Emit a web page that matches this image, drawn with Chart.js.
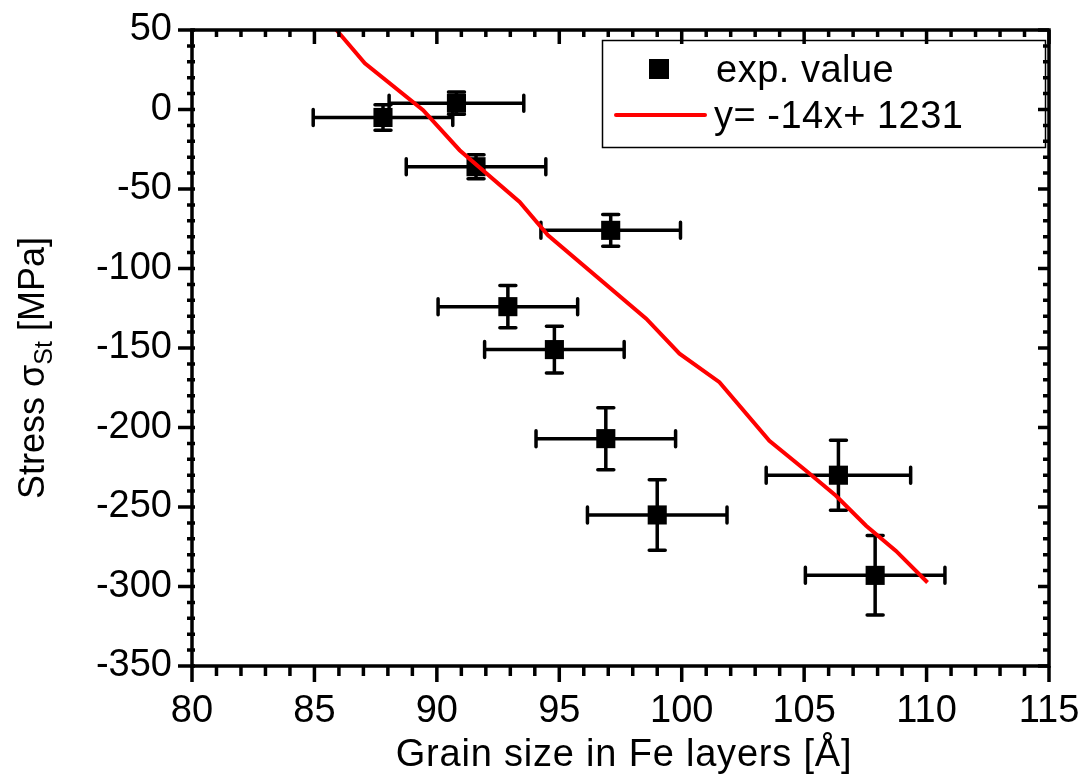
<!DOCTYPE html>
<html>
<head>
<meta charset="utf-8">
<script src="https://cdn.jsdelivr.net/npm/chart.js@4.4.0/dist/chart.umd.min.js"></script>
<style>
    html, body { margin: 0; padding: 0; background: #fff; }
    #wrap { width: 1090px; height: 778px; position: relative; }
</style>
</head>
<body>
<div id="wrap"><canvas id="stressChart"></canvas></div>
<script>
// measured points (grain size in Angstrom, stress in MPa) with their error bars
const grainSize = [87.8, 90.8, 91.6, 97.1, 92.9, 94.8, 96.9, 99.0, 106.4, 107.9];
const stress    = [-5, 4, -36, -76, -124, -151, -207, -255, -230, -293];
const grainErr  = [2.85, 2.75, 2.85, 2.85, 2.85, 2.85, 2.85, 2.85, 2.95, 2.85];
const stressErr = [8, 7, 7.5, 10, 13.3, 14.7, 19.5, 22.2, 22, 25];

// linear fit as drawn (polyline)
const fitX = [85.9, 87.06, 89.44, 90.93, 93.38, 94.54, 98.55, 99.91, 101.54, 103.58, 105.08, 106.3, 107.53, 108.75, 110.04];
const fitY = [50, 29, -0.4, -25.6, -58.1, -79.1, -131.6, -153.6, -171.5, -208.3, -227.2, -242.9, -261.8, -277.6, -297.5];

const xTickLabels = [80, 85, 90, 95, 100, 105, 110, 115];
const yTickLabels = [50, 0, -50, -100, -150, -200, -250, -300, -350];

const FONT = "'Liberation Sans', Arial, sans-serif";

// error bars under the markers, frame, ticks, axis titles and legend on top
const framePlugin = {
    id: 'frame',
    beforeDatasetsDraw(chart) {
        const ctx = chart.ctx;
        const xs = chart.scales.x, ys = chart.scales.y;
        ctx.save();
        ctx.strokeStyle = '#000';
        ctx.lineWidth = 3.5;
        ctx.lineCap = 'round';
        for (let i = 0; i < grainSize.length; i++) {
            const cx = xs.getPixelForValue(grainSize[i]);
            const cy = ys.getPixelForValue(stress[i]);
            const x0 = xs.getPixelForValue(grainSize[i] - grainErr[i]);
            const x1 = xs.getPixelForValue(grainSize[i] + grainErr[i]);
            const y0 = ys.getPixelForValue(stress[i] - stressErr[i]);
            const y1 = ys.getPixelForValue(stress[i] + stressErr[i]);
            ctx.beginPath();
            ctx.moveTo(x0, cy); ctx.lineTo(x1, cy);
            ctx.moveTo(x0, cy - 8); ctx.lineTo(x0, cy + 8);
            ctx.moveTo(x1, cy - 8); ctx.lineTo(x1, cy + 8);
            ctx.moveTo(cx, y0); ctx.lineTo(cx, y1);
            ctx.moveTo(cx - 8, y0); ctx.lineTo(cx + 8, y0);
            ctx.moveTo(cx - 8, y1); ctx.lineTo(cx + 8, y1);
            ctx.stroke();
        }
        ctx.restore();
    },
    afterDraw(chart) {
        const ctx = chart.ctx;
        const a = chart.chartArea;
        const xs = chart.scales.x, ys = chart.scales.y;
        ctx.save();
        ctx.strokeStyle = '#000';
        ctx.lineWidth = 3.5;
        ctx.lineCap = 'butt';
        ctx.strokeRect(a.left, a.top, a.right - a.left, a.bottom - a.top);

        ctx.beginPath();
        for (let v = xs.min; v <= xs.max + 1e-6; v += 1) {
            const px = xs.getPixelForValue(v);
            const major = Math.abs(v % 5) < 1e-6;
            ctx.moveTo(px, a.bottom); ctx.lineTo(px, a.bottom + (major ? 16 : 10));
            ctx.moveTo(px, a.top); ctx.lineTo(px, a.top + (major ? 14 : 7));
        }
        for (let v = ys.min; v <= ys.max + 1e-6; v += 10) {
            const py = ys.getPixelForValue(v);
            const major = Math.abs(v % 50) < 1e-6;
            ctx.moveTo(a.left - (major ? 14 : 5), py); ctx.lineTo(a.left + 3, py);
            ctx.moveTo(a.right, py); ctx.lineTo(a.right - (major ? 11 : 6), py);
        }
        ctx.stroke();

        // axis titles
        ctx.fillStyle = '#000';
        ctx.textBaseline = 'alphabetic';
        ctx.textAlign = 'center';
        ctx.font = '38px ' + FONT;
        ctx.letterSpacing = '0.8px';
        ctx.fillText('Grain size in Fe layers [\u00C5]', 624, 766);
        ctx.letterSpacing = '0px';

        ctx.save();
        ctx.translate(44, 368);
        ctx.rotate(-Math.PI / 2);
        ctx.textAlign = 'left';
        const p1 = 'Stress \u03C3', p2 = 'St', p3 = ' [MPa]';
        ctx.font = '36px ' + FONT;
        const w1 = ctx.measureText(p1).width, w3 = ctx.measureText(p3).width;
        ctx.font = '25px ' + FONT;
        const w2 = ctx.measureText(p2).width;
        let x = -(w1 + w2 + w3) / 2;
        ctx.font = '36px ' + FONT;
        ctx.fillText(p1, x, 0); x += w1;
        ctx.font = '25px ' + FONT;
        ctx.fillText(p2, x, 8); x += w2;
        ctx.font = '36px ' + FONT;
        ctx.fillText(p3, x, 0);
        ctx.restore();

        // legend
        ctx.lineWidth = 1.5;
        ctx.strokeRect(602.5, 40.5, 443, 107);
        ctx.fillRect(649, 59, 20, 20);
        ctx.strokeStyle = '#ff0000';
        ctx.lineWidth = 4;
        ctx.lineCap = 'round';
        ctx.beginPath();
        ctx.moveTo(616, 115); ctx.lineTo(705, 115);
        ctx.stroke();
        ctx.font = '38px ' + FONT;
        ctx.letterSpacing = '0.5px';
        ctx.textAlign = 'left';
        ctx.fillText('exp. value', 716, 82);
        ctx.fillText('y= -14x+ 1231', 714, 128);
        ctx.letterSpacing = '0px';
        ctx.restore();
    }
};

const ctx = document.getElementById('stressChart').getContext('2d');
new Chart(ctx, {
    type: 'scatter',
    data: {
        datasets: [
            {
                label: 'y= -14x+ 1231',
                data: fitX.map((x, i) => ({ x: x, y: fitY[i] })),
                showLine: true,
                borderColor: '#ff0000',
                borderWidth: 4,
                pointRadius: 0,
                tension: 0,
                order: 0
            },
            {
                label: 'exp. value',
                data: grainSize.map((x, i) => ({ x: x, y: stress[i] })),
                pointStyle: 'rect',
                pointRadius: 13.5,
                pointBackgroundColor: '#000',
                pointBorderWidth: 0,
                order: 1
            }
        ]
    },
    options: {
        responsive: true,
        maintainAspectRatio: false,
        animation: false,
        events: [],
        layout: { padding: { left: 0, right: 41, top: 30, bottom: 0 } },
        plugins: {
            legend: { display: false },
            tooltip: { enabled: false }
        },
        scales: {
            x: {
                type: 'linear',
                min: 80,
                max: 115,
                grid: { display: false, drawTicks: false },
                border: { display: false },
                afterBuildTicks: (scale) => { scale.ticks = xTickLabels.map(v => ({ value: v })); },
                afterFit: (scale) => {
                    scale.height = 112;
                    scale.paddingLeft = 0;
                    scale.paddingRight = 0;
                },
                ticks: {
                    padding: 23,
                    color: '#000',
                    maxRotation: 0,
                    font: { family: FONT, size: 38 }
                }
            },
            y: {
                type: 'linear',
                min: -350,
                max: 50,
                grid: { display: false, drawTicks: false },
                border: { display: false },
                afterBuildTicks: (scale) => { scale.ticks = yTickLabels.map(v => ({ value: v })); },
                afterFit: (scale) => {
                    scale.width = 192;
                    scale.paddingTop = 0;
                    scale.paddingBottom = 0;
                },
                ticks: {
                    padding: 20,
                    color: '#000',
                    font: { family: FONT, size: 38 }
                }
            }
        }
    },
    plugins: [framePlugin]
});
</script>
</body>
</html>
